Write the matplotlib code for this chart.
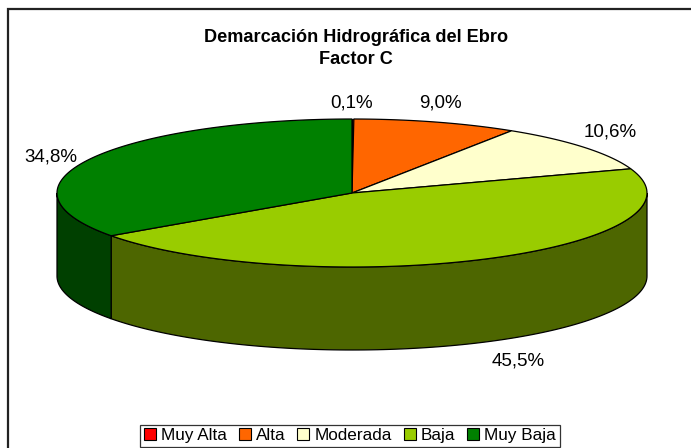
import numpy as np
import matplotlib.pyplot as plt
from matplotlib.patches import Polygon, Patch

plt.rcParams['font.family'] = ['Liberation Sans', 'DejaVu Sans']

# Factor C share per class (%)
categories = ['Muy Alta', 'Alta', 'Moderada', 'Baja', 'Muy Baja']
values = [0.1, 9.0, 10.6, 45.5, 34.8]
top_colors = ['#FF0000', '#FF6600', '#FFFFCC', '#99CC00', '#008000']
side_colors = ['#800000', '#803300', '#808066', '#4D6600', '#004000']

title_lines = ['Demarcación Hidrográfica del Ebro', 'Factor C']

# pie geometry in pixel coordinates
cx, cy = 352, 193
rx, ry = 295, 74
depth = 83

# label anchor for each slice (pixels)
label_pos = [(352, 103), (440, 103), (610, 132), (518, 361), (51, 157)]


def ellipse_pts(a0, a1, dy=0, n=120):
    # angles in degrees, clockwise from 12 o'clock
    t = np.radians(np.linspace(a0, a1, n))
    return np.column_stack([cx + rx * np.sin(t), cy - ry * np.cos(t) + dy])


fig = plt.figure(figsize=(6.91, 4.48), dpi=100)
ax = fig.add_axes([0, 0, 1, 1])
ax.set_xlim(0, 691)
ax.set_ylim(448, 0)
ax.axis('off')

bounds = np.concatenate([[0], np.cumsum(values)]) / 100 * 360

# side wall, only the front half shows
for i in range(len(values)):
    a0 = max(bounds[i], 90)
    a1 = min(bounds[i + 1], 270)
    if a1 <= a0:
        continue
    top = ellipse_pts(a0, a1)
    bottom = ellipse_pts(a0, a1, dy=depth)[::-1]
    ax.add_patch(Polygon(np.vstack([top, bottom]), closed=True,
                         facecolor=side_colors[i], edgecolor='black', lw=0.9))

# top face
for i in range(len(values)):
    arc = ellipse_pts(bounds[i], bounds[i + 1])
    pts = np.vstack([[cx, cy], arc])
    ax.add_patch(Polygon(pts, closed=True, facecolor=top_colors[i],
                         edgecolor='black', lw=0.9))

# value labels
for v, (x, y) in zip(values, label_pos):
    ax.text(x, y, f'{v:.1f}%'.replace('.', ','), ha='center', va='center',
            fontsize=13.5, color='black')

for line, y in zip(title_lines, [37, 60]):
    ax.text(356, y, line, ha='center', va='center', fontsize=13.1,
            fontweight='bold')

# chart frame
ax.plot([8.5, 8.5, 691], [448, 9.5, 9.5], color='#222222', lw=1.6,
        solid_joinstyle='miter')

handles = [Patch(facecolor=c, edgecolor='black', lw=0.8) for c in top_colors]
leg = fig.legend(handles, categories, loc='lower center', ncol=5,
                 bbox_to_anchor=(350 / 691, 1.5 / 448), frameon=True,
                 fancybox=False, fontsize=12.3, handlelength=0.7,
                 handleheight=0.7, handletextpad=0.3, columnspacing=0.7,
                 borderpad=0.2, borderaxespad=0)
leg.get_frame().set_edgecolor('black')
leg.get_frame().set_linewidth(0.9)

fig.savefig('out.png', dpi=100)
